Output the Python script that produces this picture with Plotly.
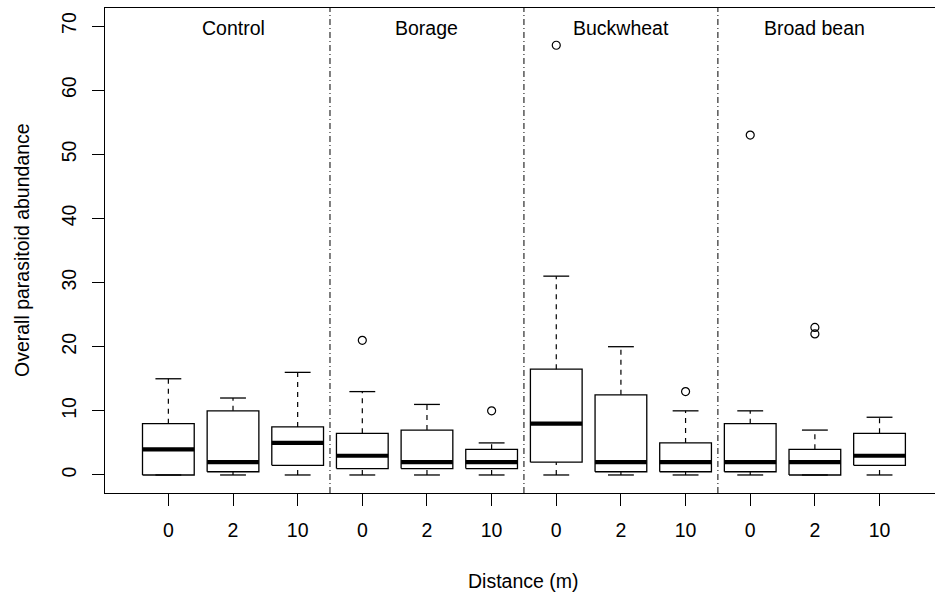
import plotly.graph_objects as go

# Parasitoid abundance by flowering strip and distance from the strip
crops = ["Control", "Borage", "Buckwheat", "Broad bean"]
distances = ["0", "2", "10"]

# Five-number summaries, one entry per crop x distance group (left to right)
lower_whisker = [0, 0, 0, 0, 0, 0, 0, 0, 0, 0, 0, 0]
q1 = [0, 0.5, 1.5, 1, 1, 1, 2, 0.5, 0.5, 0.5, 0, 1.5]
median = [4, 2, 5, 3, 2, 2, 8, 2, 2, 2, 2, 3]
q3 = [8, 10, 7.5, 6.5, 7, 4, 16.5, 12.5, 5, 8, 4, 6.5]
upper_whisker = [15, 12, 16, 13, 11, 5, 31, 20, 10, 10, 7, 9]

# Outlying observations: group index (1-based) and value
outlier_group = [4, 6, 7, 9, 10, 11, 11]
outlier_value = [21, 10, 67, 13, 53, 23, 22]

y_ticks = [0, 10, 20, 30, 40, 50, 60, 70]

FONT = "Liberation Sans, Arial, sans-serif"
INK = "#000000"
FS = 19.5
BOX_HALF = 0.4
CAP_HALF = 0.2

positions = list(range(1, len(median) + 1))

box_x, box_y = [], []
med_x, med_y = [], []
wh_x, wh_y = [], []
cap_x, cap_y = [], []
for p, lo, a, m, b, hi in zip(positions, lower_whisker, q1, median, q3, upper_whisker):
    box_x += [p - BOX_HALF, p + BOX_HALF, p + BOX_HALF, p - BOX_HALF, p - BOX_HALF, None]
    box_y += [a, a, b, b, a, None]
    med_x += [p - BOX_HALF, p + BOX_HALF, None]
    med_y += [m, m, None]
    if hi > b:
        wh_x += [p, p, None]
        wh_y += [b, hi, None]
    if lo < a:
        wh_x += [p, p, None]
        wh_y += [lo, a, None]
    cap_x += [p - CAP_HALF, p + CAP_HALF, None, p - CAP_HALF, p + CAP_HALF, None]
    cap_y += [hi, hi, None, lo, lo, None]

fig = go.Figure()
fig.add_trace(go.Scatter(x=wh_x, y=wh_y, mode="lines",
                         line=dict(color=INK, width=1.2, dash="5px,5px"), hoverinfo="skip"))
fig.add_trace(go.Scatter(x=cap_x, y=cap_y, mode="lines",
                         line=dict(color=INK, width=1.3), hoverinfo="skip"))
fig.add_trace(go.Scatter(x=box_x, y=box_y, mode="lines", fill="none",
                         line=dict(color=INK, width=1.3), hoverinfo="skip"))
fig.add_trace(go.Scatter(x=med_x, y=med_y, mode="lines",
                         line=dict(color=INK, width=4.2), hoverinfo="skip"))
fig.add_trace(go.Scatter(x=outlier_group, y=outlier_value, mode="markers",
                         marker=dict(symbol="circle-open", size=8, color=INK,
                                     line=dict(width=1.2, color=INK)),
                         hoverinfo="y"))

# Dividers between crop panels
for xd in [3.5, 6.5, 9.5]:
    fig.add_shape(type="line", xref="x", yref="paper", x0=xd, x1=xd, y0=0, y1=1,
                  line=dict(color=INK, width=1, dash="6px,3px,1px,3px"))

# Crop labels centred over each panel
for i, name in enumerate(crops):
    fig.add_annotation(x=3 * i + 2, y=70, text=name, showarrow=False,
                       xanchor="center", yanchor="middle", yshift=-2,
                       font=dict(family=FONT, size=FS, color=INK))

fig.add_annotation(xref="paper", yref="paper", x=(523 - 105) / 830, y=-(581 - 493) / 485,
                   text="Distance (m)", showarrow=False, xanchor="center", yanchor="middle",
                   font=dict(family=FONT, size=FS, color=INK))
fig.add_annotation(xref="paper", yref="paper", x=(22 - 105) / 830, y=(493 - 250) / 485,
                   text="Overall parasitoid abundance", showarrow=False, textangle=-90,
                   xanchor="center", yanchor="middle",
                   font=dict(family=FONT, size=FS, color=INK))

fig.update_layout(
    width=935, height=595,
    margin=dict(l=105, r=0, t=8, b=102),
    paper_bgcolor="white", plot_bgcolor="white",
    showlegend=False,
    font=dict(family=FONT, size=FS, color=INK),
    xaxis=dict(range=[0.02, 12.858], tickmode="array", tickvals=positions,
               ticktext=distances * len(crops), ticks="outside", ticklen=12,
               tickwidth=1.2, tickcolor=INK, showline=True, mirror=True,
               linecolor=INK, linewidth=1.3, showgrid=False, zeroline=False,
               ticklabelstandoff=7,
               tickfont=dict(family=FONT, size=FS, color=INK)),
    yaxis=dict(range=[-2.81, 72.81], tickmode="array", tickvals=y_ticks,
               ticks="outside", ticklen=12, tickwidth=1.2, tickcolor=INK,
               tickangle=-90, showline=True, mirror=False, linecolor=INK,
               linewidth=1.3, showgrid=False, zeroline=False,
               ticklabelstandoff=8,
               tickfont=dict(family=FONT, size=FS, color=INK)),
)

fig.write_html("out.html")
